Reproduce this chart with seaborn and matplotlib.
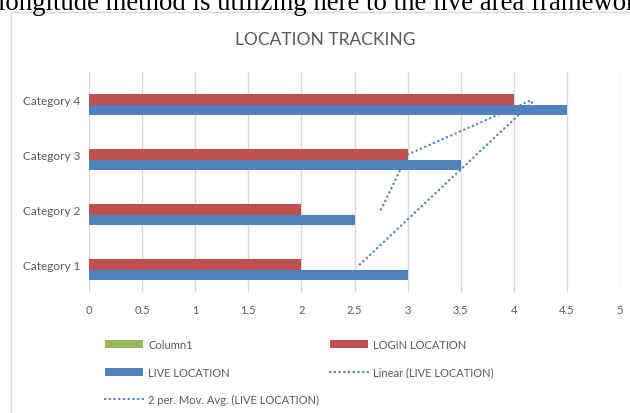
import numpy as np
import pandas as pd
import matplotlib
matplotlib.use("Agg")
import matplotlib.pyplot as plt
import seaborn as sns
from matplotlib.patches import Patch, Rectangle
from matplotlib.lines import Line2D

# Chart data
categories = ["Category 1", "Category 2", "Category 3", "Category 4"]
column1 = [0, 0, 0, 0]
login_location = [2, 2, 3, 4]
live_location = [3, 2.5, 3.5, 4.5]
x_ticks = [0, 0.5, 1, 1.5, 2, 2.5, 3, 3.5, 4, 4.5, 5]
x_tick_labels = ["0", "0.5", "1", "1.5", "2", "2.5", "3", "3.5", "4", "4.5", "5"]

# 2-period moving average of LIVE LOCATION (categories 2..4)
mov_avg_categories = ["Category 2", "Category 3", "Category 4"]
mov_avg_live = [2.75, 3.0, 4.18]

series_names = ["Column1", "LOGIN LOCATION", "LIVE LOCATION"]
palette = {"Column1": "#9BBB59", "LOGIN LOCATION": "#C0504D", "LIVE LOCATION": "#4F81BD"}
text_grey = "#595959"
ui_font = "Lato"

df = pd.DataFrame({
    "Category": categories * 3,
    "Series": [s for s in series_names for _ in categories],
    "Value": column1 + login_location + live_location,
})

W, H = 630, 414
fig = plt.figure(figsize=(W / 100, H / 100), dpi=100)

# paragraph line running across the top of the page
fig.text(-2 / W, 1 - 10 / H, "longitude method is utilizing here to the live area framework",
         family="Liberation Serif", fontsize=19.3, color="black", ha="left", va="baseline")

# chart frame
fig.patches.append(Rectangle((11 / W, -0.1), 1.2, 1.1 - 13 / H, transform=fig.transFigure,
                             fill=False, edgecolor="#D9D9D9", lw=1))

ax = fig.add_axes([89 / W, 1 - 293 / H, (620 - 89) / W, (293 - 73) / H])
order = categories[::-1]
sns.barplot(data=df, y="Category", x="Value", hue="Series", order=order,
            hue_order=series_names, palette=palette, orient="h", width=0.55,
            saturation=1, legend=False, ax=ax)

ypos = {c: i for i, c in enumerate(order)}

# linear trendline of LIVE LOCATION against category index
idx = np.arange(1, len(categories) + 1)
slope, intercept = np.polyfit(idx, live_location, 1)
lin_x = [slope * idx[0] + intercept, slope * idx[-1] + intercept]
lin_y = [ypos[categories[0]], ypos[categories[-1]]]
dot_style = dict(color="#4F81BD", lw=1.7, linestyle=(0, (0.1, 1.9)), dash_capstyle="round")
ax.plot(lin_x, lin_y, **dot_style)
ax.plot(mov_avg_live, [ypos[c] for c in mov_avg_categories], **dot_style)

ax.set_xlim(0, 5)
ax.set_ylim(len(categories) - 0.5, -0.5)
ax.set_xticks(x_ticks)
ax.set_xticklabels(x_tick_labels)
ax.grid(axis="x", color="#D9D9D9", lw=1)
ax.grid(axis="y", visible=False)
ax.set_axisbelow(True)
for sp in ax.spines.values():
    sp.set_visible(False)
ax.set_xlabel("")
ax.set_ylabel("")
ax.tick_params(axis="x", length=0, pad=9, labelsize=8, labelcolor=text_grey)
ax.tick_params(axis="y", length=0, pad=6.5, labelsize=8.5, labelcolor=text_grey)
for lab in ax.get_xticklabels() + ax.get_yticklabels():
    lab.set_family(ui_font)

fig.text(325 / W, 1 - 40 / H, "LOCATION TRACKING", family=ui_font, fontsize=12.5,
         color=text_grey, ha="center", va="center")

handles = [
    Patch(facecolor=palette["Column1"], label="Column1"),
    Patch(facecolor=palette["LIVE LOCATION"], label="LIVE LOCATION"),
    Line2D([], [], **dot_style, label="2 per. Mov. Avg. (LIVE LOCATION)"),
    Patch(facecolor=palette["LOGIN LOCATION"], label="LOGIN LOCATION"),
    Line2D([], [], **dot_style, label="Linear (LIVE LOCATION)"),
]
fig.legend(handles=handles, loc="upper left", bbox_to_anchor=(105 / W, 1 - 340 / H),
           ncol=2, frameon=False, prop={"family": ui_font, "size": 8},
           labelcolor=text_grey, handlelength=3.4, handleheight=0.7, handletextpad=0.5,
           columnspacing=0.95, labelspacing=1.5, borderpad=0, borderaxespad=0)

fig.savefig("out.png", dpi=100)
